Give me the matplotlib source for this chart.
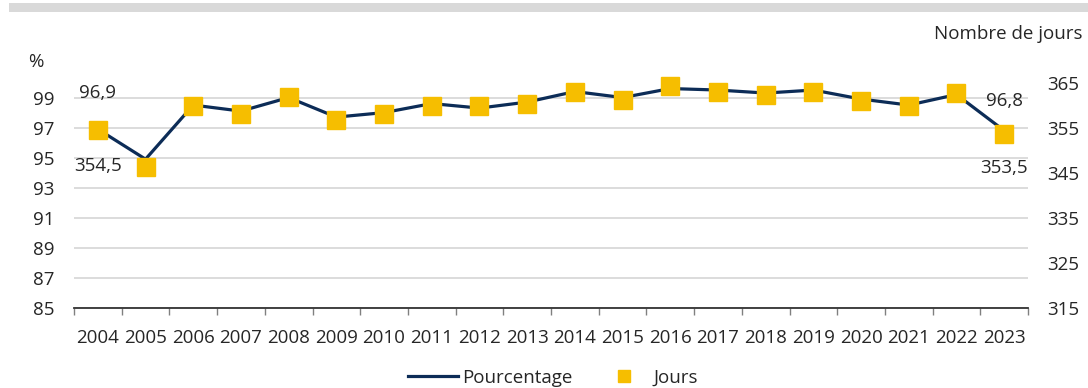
import matplotlib.pyplot as plt
from matplotlib.lines import Line2D

plt.rcParams['font.family'] = ['Open Sans', 'DejaVu Sans']

annees = [str(a) for a in range(2004, 2024)]
pourcentage = [96.9, 94.9, 98.5, 98.1, 99.0, 97.7, 98.0, 98.6, 98.3, 98.7,
               99.4, 99.0, 99.6, 99.5, 99.3, 99.5, 98.9, 98.5, 99.2, 96.8]
jours = [354.5, 346.2, 359.9, 358.1, 361.7, 356.6, 358.0, 359.9, 359.7, 360.3,
         362.8, 361.2, 364.3, 362.8, 362.3, 363.0, 361.0, 359.7, 362.6, 353.5]

bleu = '#0c2c57'
jaune = '#f6be00'
texte = '#262626'
fs = 13.5

fig = plt.figure(figsize=(10.88, 3.88), dpi=100)
ax = fig.add_axes([0.068, 0.2062, 0.8769, 0.6392])
ax2 = ax.twinx()

x = list(range(len(annees)))

# pourcentage sur l'axe de gauche
ax.plot(x, pourcentage, color=bleu, lw=2.3, zorder=3, solid_joinstyle='miter')
ax.set_ylim(85, 101.5)
ax.set_yticks(range(85, 100, 2))
ax.set_xlim(-0.5, len(annees) - 0.5)
ax.set_xticks(x)
ax.set_xticklabels(annees)
ax.set_xticks([i - 0.5 for i in range(len(annees) + 1)], minor=True)
ax.tick_params(axis='x', which='major', length=0, pad=15, labelsize=fs, colors=texte)
ax.tick_params(axis='x', which='minor', length=5, width=1, color='#808080')
ax.tick_params(axis='y', length=0, pad=14, labelsize=fs, colors=texte)
ax.grid(axis='y', color='#d9d9d9', lw=1.3)
ax.set_axisbelow(True)
for s in ['top', 'right', 'left']:
    ax.spines[s].set_visible(False)
ax.spines['bottom'].set_color('#333333')
ax.spines['bottom'].set_linewidth(1.3)

# nombre de jours sur l'axe de droite
ax2.plot(x, jours, ls='none', marker='s', ms=12.5, color=jaune, zorder=4)
ax2.set_ylim(315, 370)
ax2.set_yticks(range(315, 366, 10))
ax2.tick_params(axis='y', length=0, pad=14, labelsize=fs, colors=texte)
for s in ax2.spines.values():
    s.set_visible(False)

# étiquettes des valeurs extrêmes
ax.annotate('96,9', (0, pourcentage[0]), xytext=(0, 26), textcoords='offset points',
            ha='center', va='center', fontsize=fs, color=texte)
ax2.annotate('354,5', (0, jours[0]), xytext=(0, -26), textcoords='offset points',
             ha='center', va='center', fontsize=fs, color=texte)
ax.annotate('96,8', (19, pourcentage[-1]), xytext=(0, 21), textcoords='offset points',
            ha='center', va='center', fontsize=fs, color=texte)
ax2.annotate('353,5', (19, jours[-1]), xytext=(0, -24), textcoords='offset points',
             ha='center', va='center', fontsize=fs, color=texte)

fig.text(0.026, 0.84, '%', fontsize=fs, color=texte, va='center')
fig.text(0.995, 0.912, 'Nombre de jours', fontsize=fs, color=texte, va='center', ha='right')

# bandeau gris en haut
fig.patches.append(plt.Rectangle((0.008, 0.969), 0.992, 0.023, transform=fig.transFigure,
                                 color='#d9d9d9', lw=0))

handles = [Line2D([], [], color=bleu, lw=2.3),
           Line2D([], [], ls='none', marker='s', ms=9, color=jaune)]
fig.legend(handles, ['Pourcentage', 'Jours'], loc='center', bbox_to_anchor=(0.508, 0.027),
           ncol=2, frameon=False, fontsize=fs, handlelength=2.7, handletextpad=0.2,
           columnspacing=1.4, labelcolor=texte)

fig.savefig('out.png', dpi=100)
